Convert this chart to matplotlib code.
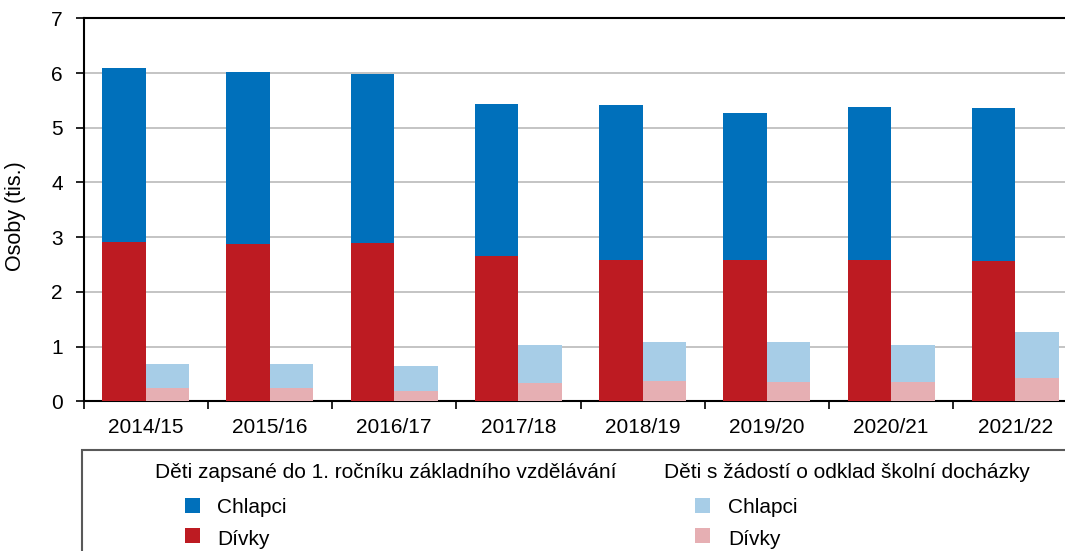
import numpy as np
import matplotlib.pyplot as plt
from matplotlib.patches import Rectangle

plt.rcParams['font.family'] = ['Liberation Sans', 'DejaVu Sans']

# school years
years = ['2014/15', '2015/16', '2016/17', '2017/18',
         '2018/19', '2019/20', '2020/21', '2021/22']

# children enrolled in 1st grade (thousands)
zapsani_divky = [2.92, 2.88, 2.90, 2.66, 2.59, 2.59, 2.59, 2.56]
zapsani_chlapci = [3.18, 3.13, 3.09, 2.77, 2.82, 2.68, 2.79, 2.80]

# children with a request to postpone school attendance (thousands)
odklad_divky = [0.24, 0.24, 0.19, 0.34, 0.38, 0.36, 0.36, 0.43]
odklad_chlapci = [0.44, 0.44, 0.46, 0.69, 0.70, 0.72, 0.67, 0.84]

header_zapsani = 'Děti zapsané do 1. ročníku základního vzdělávání'
header_odklad = 'Děti s žádostí o odklad školní docházky'

c_blue = '#0070BB'
c_red = '#BD1B22'
c_lblue = '#A7CDE7'
c_pink = '#E6AFB3'

W, H = 1065, 551
fig = plt.figure(figsize=(W / 100, H / 100), dpi=100)
ax = fig.add_axes([83.5 / W, 149.7 / H, (1077.5 - 83.5) / W, (401.3 - 18.3) / H])

x = np.arange(len(years))
bw = 0.35
bar_kw = dict(width=bw, linewidth=0, zorder=3)

ax.bar(x - bw / 2, zapsani_divky, color=c_red, **bar_kw)
ax.bar(x - bw / 2, zapsani_chlapci, bottom=zapsani_divky, color=c_blue, **bar_kw)
ax.bar(x + bw / 2, odklad_divky, color=c_pink, **bar_kw)
ax.bar(x + bw / 2, odklad_chlapci, bottom=odklad_divky, color=c_lblue, **bar_kw)

ax.set_xlim(-0.5, len(years) - 0.5)
ax.set_ylim(0, 7)
ax.set_yticks(range(8))
ax.yaxis.grid(True, color='#BFBFBF', linewidth=1.3, zorder=0)
ax.set_axisbelow(True)

ax.set_xticks(x)
ax.set_xticklabels(years)
ax.set_xticks(np.arange(-0.5, len(years)), minor=True)
ax.tick_params(axis='x', which='major', length=0, pad=12, labelsize=15)
ax.tick_params(axis='x', which='minor', length=6, width=1.2, direction='out')
ax.tick_params(axis='y', length=6, width=1.2, direction='out', pad=9, labelsize=15)

for s in ['left', 'bottom', 'top']:
    ax.spines[s].set_color('black')
    ax.spines[s].set_linewidth(1.5)
ax.spines['right'].set_visible(False)

fig.text(16 / W, 1 - 216.5 / H, 'Osoby (tis.)', rotation=90,
         ha='center', va='center', fontsize=15.5)

# legend drawn by hand: two groups with headers
fig.add_artist(Rectangle((82 / W, -0.1), 1.1, 0.1 + (H - 449.5) / H,
                         transform=fig.transFigure, fill=False,
                         edgecolor='#595959', linewidth=1.5))


def fy(py):
    return 1 - py / H


fig.text(155 / W, fy(478), header_zapsani, fontsize=15, va='baseline')
fig.text(664 / W, fy(478), header_odklad, fontsize=15, va='baseline')

entries = [
    (184.5, 498.3, c_blue, 217, 513.3, 'Chlapci'),
    (184.5, 528.0, c_red, 217, 545.0, 'Dívky'),
    (695.0, 498.3, c_lblue, 728, 513.3, 'Chlapci'),
    (695.0, 528.0, c_pink, 728, 545.0, 'Dívky'),
]
for sx, sy, col, tx, ty, lab in entries:
    fig.add_artist(Rectangle((sx / W, fy(sy + 15)), 15 / W, 15 / H,
                             transform=fig.transFigure, color=col, linewidth=0))
    fig.text(tx / W, fy(ty), lab, fontsize=15, va='baseline')

fig.savefig('out.png', dpi=100)
